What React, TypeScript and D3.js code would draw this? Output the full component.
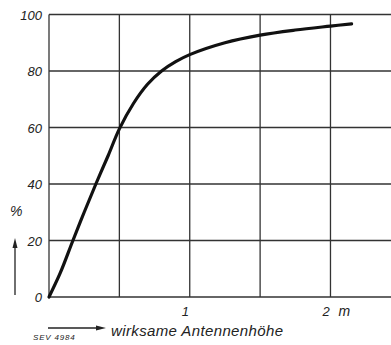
import React from "react";
import * as d3 from "d3";

const heightM = [0, 0.08, 0.17, 0.25, 0.333, 0.42, 0.5, 0.6, 0.7, 0.8, 0.9, 1.0, 1.25, 1.5, 1.75, 2.0, 2.15];
const percent = [0, 8.5, 20, 30, 40, 50, 59.5, 68.5, 75.3, 80, 83.3, 85.8, 90, 92.7, 94.5, 95.9, 96.7];
const xGrid = [0, 0.5, 1, 1.5, 2];
const yTicks = [0, 20, 40, 60, 80, 100];
const xTickLabels = [{ v: 1, t: "1" }, { v: 2, t: "2" }];
const xUnit = "m";

export default function App() {
  const W = 391, H = 345;
  const x = d3.scaleLinear().domain([0, 2.43]).range([49, 391]);
  const y = d3.scaleLinear().domain([0, 100]).range([297, 14.5]);
  const data = heightM.map((h, i) => [h, percent[i]] as [number, number]);
  const line = d3.line<[number, number]>().x(d => x(d[0])).y(d => y(d[1])).curve(d3.curveCatmullRom.alpha(0.5));
  const font = "'Liberation Sans', Arial, sans-serif";
  return (
    <svg width={W} height={H} style={{ position: "absolute", left: 0, top: 0, background: "#fff" }}>
      <rect width={W} height={H} fill="#fff" />
      <g stroke="#333" strokeWidth={1.3}>
        {xGrid.map(v => <line key={"x" + v} x1={x(v)} x2={x(v)} y1={y(100)} y2={y(0)} />)}
        {yTicks.map(v => <line key={"y" + v} x1={x(0)} x2={W} y1={y(v)} y2={y(v)} />)}
      </g>
      <path d={line(data) || ""} fill="none" stroke="#111" strokeWidth={3.2} strokeLinecap="round" />
      <g fontFamily={font} fontStyle="italic" fontSize={13} fill="#222" textAnchor="end">
        {yTicks.map(v => <text key={v} x={42} y={y(v) + 5}>{v}</text>)}
      </g>
      <g fontFamily={font} fontStyle="italic" fontSize={13} fill="#222">
        {xTickLabels.map(d => <text key={d.v} x={x(d.v) - 8} y={316}>{d.t}</text>)}
      </g>
      <text x={x(2) + 8} y={316} fontFamily={font} fontStyle="italic" fontSize={14} fill="#222">{xUnit}</text>
      <text x={10} y={216} fontFamily={font} fontStyle="italic" fontSize={14} fill="#222">%</text>
      <line x1={15} y1={295} x2={15} y2={246} stroke="#222" strokeWidth={1.3} />
      <path d="M15,238 L12.5,248 L17.5,248 Z" fill="#222" />
      <line x1={48} y1={328} x2={98} y2={328} stroke="#222" strokeWidth={1.3} />
      <path d="M106,328 L96,325.5 L96,330.5 Z" fill="#222" />
      <text x={33} y={340} fontFamily={font} fontStyle="italic" fontSize={8} fill="#222" letterSpacing={0.8}>SEV 4984</text>
      <text x={111} y={336} fontFamily={font} fontStyle="italic" fontSize={15} fill="#222" textLength={172}>wirksame Antennenhöhe</text>
    </svg>
  );
}
